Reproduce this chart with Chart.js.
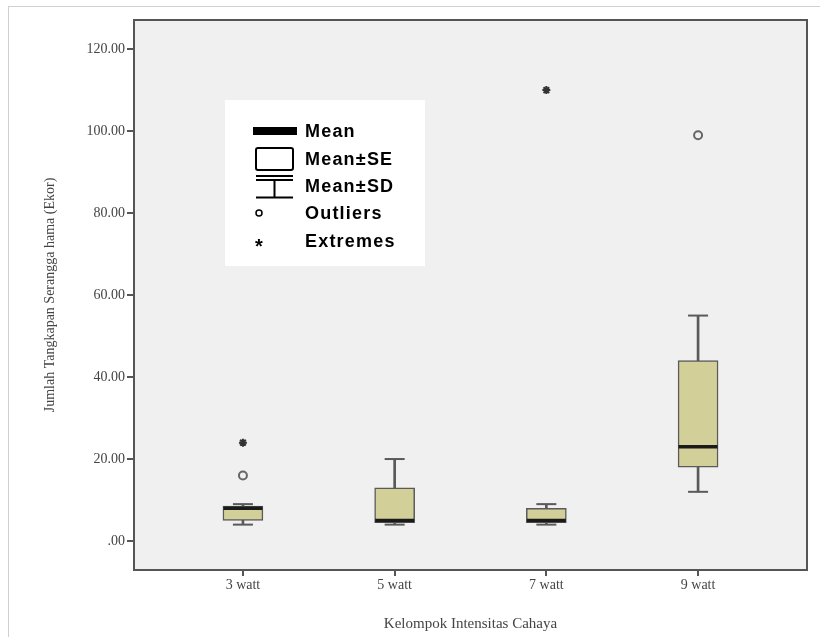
<!DOCTYPE html>
<html>
<head>
<meta charset="utf-8">
<script src="https://cdn.jsdelivr.net/npm/chart.js@4/dist/chart.umd.min.js"></script>
<style>
    html, body { margin: 0; padding: 0; background: #fff; }
    #wrap { position: relative; width: 820px; height: 637px; }
    #frame { position: absolute; left: 8px; top: 6px; right: 0; bottom: 0; border-left: 1px solid #d0d0d0; border-top: 1px solid #d0d0d0; }
    #boxChart { position: absolute; left: 0; top: 0; }
</style>
</head>
<body>
<div id="wrap">
    <div id="frame"></div>
    <canvas id="boxChart" width="820" height="637"></canvas>
</div>
<script>
    "use strict";

    // categories and box statistics
    const categories = ['3 watt', '5 watt', '7 watt', '9 watt'];
    const whiskerLow = [4, 4, 4, 12];
    const boxLow = [5, 4.5, 4.5, 18];
    const medians = [8, 5, 5, 23];
    const boxHigh = [8.5, 13, 8, 44];
    const whiskerHigh = [9, 20, 9, 55];
    const outliers = [16, null, null, 99];
    const extremes = [24, null, 110, null];
    const yTicks = [0, 20, 40, 60, 80, 100, 120];

    const positions = categories.map((c, i) => i + 1);
    const pairs = (lo, hi) => positions.map((x, i) => ({ x: x, y: [lo[i], hi[i]] }));
    const points = (vals) => positions.map((x, i) => ({ x: x, y: vals[i] }));

    const boxFill = '#d3cf98';
    const edge = '#5a5a5a';

    // plot background and the top/right sides of the frame
    const framePlugin = {
        id: 'framePlugin',
        beforeDraw: function (chart) {
            const a = chart.chartArea;
            const ctx = chart.ctx;
            ctx.save();
            ctx.fillStyle = '#f0f0f0';
            ctx.fillRect(a.left, a.top, a.right - a.left, a.bottom - a.top);
            ctx.restore();
        },
        afterDraw: function (chart) {
            const a = chart.chartArea;
            const ctx = chart.ctx;
            ctx.save();
            ctx.strokeStyle = '#555';
            ctx.lineWidth = 2;
            ctx.strokeRect(a.left, a.top, a.right - a.left, a.bottom - a.top);
            ctx.restore();
        },
    };

    // SPSS style legend box
    const legendPlugin = {
        id: 'legendPlugin',
        afterDraw: function (chart) {
            const ctx = chart.ctx;
            ctx.save();
            ctx.fillStyle = '#fff';
            ctx.fillRect(225, 100, 200, 166);

            ctx.fillStyle = '#000';
            ctx.fillRect(253, 127, 44, 8);

            ctx.strokeStyle = '#000';
            ctx.lineWidth = 2;
            ctx.beginPath();
            ctx.roundRect(256, 148, 37, 22, 2);
            ctx.stroke();

            ctx.beginPath();
            ctx.moveTo(256, 176); ctx.lineTo(293, 176);
            ctx.moveTo(256, 180); ctx.lineTo(293, 180);
            ctx.moveTo(274.5, 180); ctx.lineTo(274.5, 197);
            ctx.moveTo(256, 197.5); ctx.lineTo(293, 197.5);
            ctx.stroke();

            ctx.lineWidth = 1.5;
            ctx.beginPath();
            ctx.arc(259, 213, 3, 0, Math.PI * 2);
            ctx.stroke();

            ctx.font = 'bold 20px "Liberation Sans", Arial, sans-serif';
            ctx.textAlign = 'center';
            ctx.textBaseline = 'middle';
            ctx.fillText('*', 259, 247);

            ctx.textAlign = 'left';
            ctx.font = 'bold 18px "Liberation Sans", Arial, sans-serif';
            ctx.letterSpacing = '1.2px';
            const labels = ['Mean', 'Mean\u00b1SE', 'Mean\u00b1SD', 'Outliers', 'Extremes'];
            const ys = [132, 160, 187, 214, 242];
            labels.forEach((t, i) => ctx.fillText(t, 305, ys[i]));
            ctx.restore();
        },
    };

    new Chart(document.getElementById('boxChart').getContext('2d'), {
        type: 'bar',
        data: {
            datasets: [
                {
                    type: 'bar',
                    data: pairs(whiskerLow, whiskerHigh),
                    backgroundColor: edge,
                    barThickness: 2,
                    grouped: false,
                    order: 5,
                },
                {
                    type: 'bar',
                    data: pairs(boxLow, boxHigh),
                    backgroundColor: boxFill,
                    borderColor: edge,
                    borderWidth: 1.5,
                    borderSkipped: false,
                    barThickness: 40,
                    grouped: false,
                    order: 4,
                },
                {
                    type: 'line',
                    data: points(whiskerLow),
                    showLine: false,
                    pointStyle: 'line',
                    pointRadius: 10,
                    borderColor: edge,
                    borderWidth: 2,
                    order: 3,
                },
                {
                    type: 'line',
                    data: points(whiskerHigh),
                    showLine: false,
                    pointStyle: 'line',
                    pointRadius: 10,
                    borderColor: edge,
                    borderWidth: 2,
                    order: 3,
                },
                {
                    type: 'line',
                    data: points(medians),
                    showLine: false,
                    pointStyle: 'line',
                    pointRadius: 19.5,
                    borderColor: '#1a1a1a',
                    borderWidth: 3.5,
                    order: 2,
                },
                {
                    type: 'line',
                    data: points(outliers),
                    showLine: false,
                    pointStyle: 'circle',
                    pointRadius: 4,
                    backgroundColor: '#f0f0f0',
                    borderColor: '#666',
                    borderWidth: 2,
                    order: 1,
                },
                {
                    type: 'line',
                    data: points(extremes),
                    showLine: false,
                    pointStyle: 'star',
                    pointRadius: 4,
                    borderColor: '#333',
                    borderWidth: 2,
                    order: 1,
                },
            ],
        },
        options: {
            responsive: false,
            animation: false,
            layout: { autoPadding: false, padding: { left: 42, right: 13, top: 20, bottom: 0 } },
            plugins: { legend: { display: false }, tooltip: { enabled: false } },
            scales: {
                x: {
                    type: 'linear',
                    offset: false,
                    min: 0.282,
                    max: 4.718,
                    afterBuildTicks: (scale) => { scale.ticks = positions.map(v => ({ value: v })); },
                    afterFit: (scale) => { scale.height = 67; },
                    grid: { offset: false, drawOnChartArea: false, drawTicks: true, tickLength: 6, color: '#555', lineWidth: 2 },
                    border: { display: true, color: '#555', width: 2 },
                    ticks: {
                        callback: (v) => categories[v - 1],
                        color: '#444',
                        padding: 1,
                        maxRotation: 0,
                        font: { family: '"Liberation Serif", "Times New Roman", serif', size: 14 },
                    },
                    title: {
                        display: true,
                        text: 'Kelompok Intensitas Cahaya',
                        color: '#444',
                        padding: { top: 8 },
                        font: { family: '"Liberation Serif", "Times New Roman", serif', size: 15 },
                    },
                },
                y: {
                    min: -7.07,
                    max: 127.1,
                    afterBuildTicks: (scale) => { scale.ticks = yTicks.map(v => ({ value: v })); },
                    afterFit: (scale) => { scale.width = 92; },
                    grid: { drawOnChartArea: false, drawTicks: true, tickLength: 7, color: '#555', lineWidth: 2 },
                    border: { display: true, color: '#555', width: 2 },
                    ticks: {
                        callback: (v) => (v === 0 ? '.00' : v.toFixed(2)),
                        color: '#444',
                        padding: 2,
                        font: { family: '"Liberation Serif", "Times New Roman", serif', size: 14 },
                    },
                    title: {
                        display: true,
                        text: 'Jumlah Tangkapan Serangga hama (Ekor)',
                        color: '#444',
                        padding: 0,
                        font: { family: '"Liberation Serif", "Times New Roman", serif', size: 14 },
                    },
                },
            },
        },
        plugins: [framePlugin, legendPlugin],
    });
</script>
</body>
</html>
